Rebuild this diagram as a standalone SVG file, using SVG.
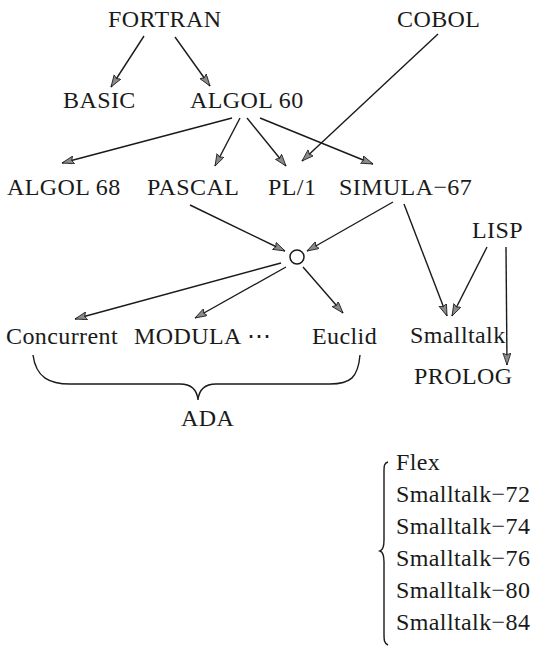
<svg xmlns="http://www.w3.org/2000/svg" width="533" height="649" viewBox="0 0 533 649" font-family="Liberation Serif, DejaVu Serif, serif">
<style>
text{font-size:24px;fill:#1a1a1a;letter-spacing:0.4px}
.c line{stroke:#1a1a1a;stroke-width:1.4;marker-end:url(#ah)}
.b{fill:none;stroke:#1a1a1a;stroke-width:1.4}
</style>
<defs>
<marker id="ah" markerUnits="userSpaceOnUse" markerWidth="14" markerHeight="10" refX="12" refY="4" orient="auto">
<path d="M0,0 L12,4 L0,8 L2,4 z" fill="#8a8a8a" stroke="#1a1a1a" stroke-width="0.8"/>
</marker>
</defs>
<rect width="533" height="649" fill="#fff"/>
<g class="c">
<line x1="144" y1="36" x2="111" y2="87"/>
<line x1="175" y1="37" x2="210" y2="86"/>
<line x1="438" y1="34" x2="302" y2="161"/>
<line x1="232" y1="118" x2="62" y2="163"/>
<line x1="240" y1="118" x2="215" y2="166"/>
<line x1="247" y1="118" x2="286" y2="166"/>
<line x1="260" y1="118" x2="373" y2="164"/>
<line x1="190" y1="205" x2="285" y2="251"/>
<line x1="393" y1="202" x2="307" y2="251"/>
<line x1="404" y1="204" x2="447" y2="316"/>
<line x1="487" y1="247" x2="452" y2="316"/>
<line x1="506" y1="247" x2="507" y2="365"/>
<line x1="281" y1="263" x2="75" y2="319"/>
<line x1="286" y1="267" x2="195" y2="318"/>
<line x1="303" y1="267" x2="343" y2="313"/>
</g>
<g id="fortran"><text x="108" y="27">FORTRAN</text></g>
<g id="cobol"><text x="397" y="27">COBOL</text></g>
<g id="basic"><text x="63" y="108">BASIC</text></g>
<g id="algol60"><text x="190" y="108">ALGOL 60</text></g>
<g id="algol68"><text x="7" y="195">ALGOL 68</text></g>
<g id="pascal"><text x="147" y="195">PASCAL</text></g>
<g id="pl1"><text x="268" y="195">PL/1</text></g>
<g id="simula"><text x="339" y="195">SIMULA−67</text></g>
<g id="lisp"><text x="472" y="238">LISP</text></g>
<g id="merge"><circle cx="297" cy="257" r="7" fill="none" stroke="#1a1a1a" stroke-width="1.5"/></g>
<g id="concurrent"><text x="6" y="344">Concurrent</text></g>
<g id="modula"><text x="134" y="344">MODULA ⋯</text></g>
<g id="euclid"><text x="312" y="344">Euclid</text></g>
<g id="smalltalk"><text x="410" y="343">Smalltalk</text></g>
<g id="prolog"><text x="414" y="384">PROLOG</text></g>
<g id="ada">
<path class="b" d="M33,355 C36,378 50,384 70,384 L180,384 C192,384 197,390 198,400 C199,390 204,384 216,384 L330,384 C350,384 358,378 360,355"/>
<text x="181" y="426">ADA</text>
</g>
<g id="versions">
<path class="b" d="M388,462 C384,463 384,466 384,472 L384,540 C384,547 383,550 380,551 C383,552 384,555 384,562 L384,634 C384,640 384,643 388,645"/>
<text x="396" y="470">Flex</text>
<text x="396" y="502">Smalltalk−72</text>
<text x="396" y="534">Smalltalk−74</text>
<text x="396" y="566">Smalltalk−76</text>
<text x="396" y="598">Smalltalk−80</text>
<text x="396" y="630">Smalltalk−84</text>
</g>
</svg>
